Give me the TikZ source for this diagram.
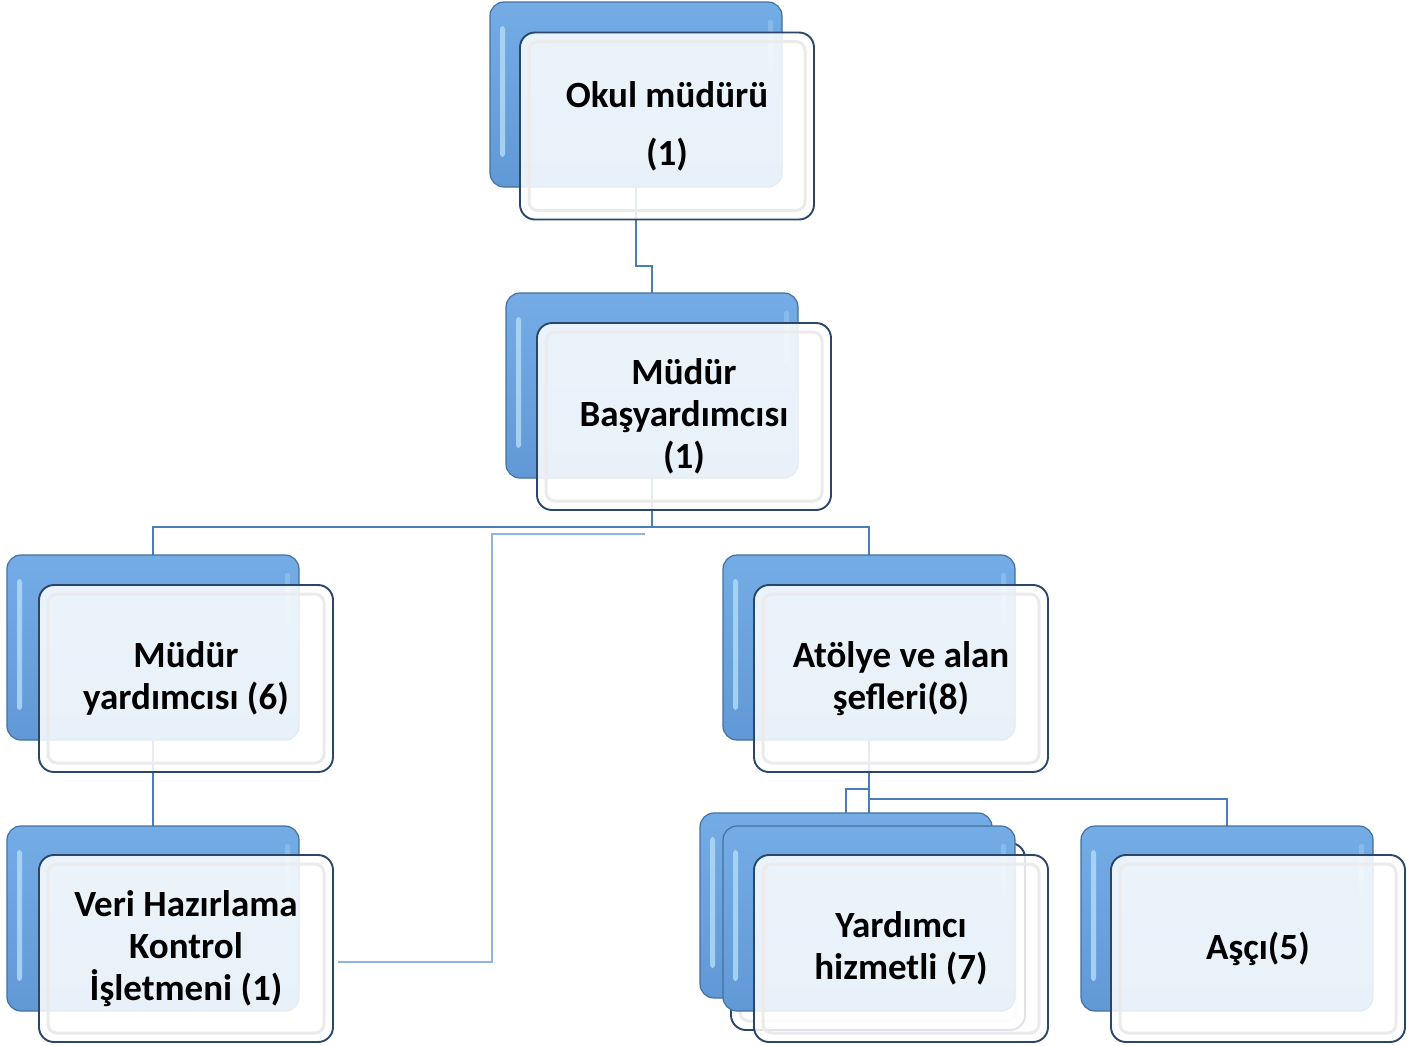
\documentclass[tikz,border=0pt]{standalone}
\usepackage{fontspec}
\setmainfont{Carlito}
\usetikzlibrary{calc}
\pgfdeclarelayer{background}
\pgfsetlayers{background,main}
\definecolor{bbtop}{HTML}{74ACE6}
\definecolor{bbbot}{HTML}{6199D6}
\definecolor{bbdraw}{HTML}{44719F}
\definecolor{hl}{HTML}{B5DDF7}
\definecolor{fdraw}{HTML}{2A466B}
\definecolor{conn}{HTML}{4A7EBB}
\definecolor{connl}{HTML}{8DB4E2}
\tikzset{
  backbox/.style={rounded corners=14pt, minimum width=292pt, minimum height=185pt,
    inner sep=0pt, outer sep=0pt, draw=bbdraw, line width=1.2pt,
    top color=bbtop, bottom color=bbbot,
    path picture={
      \fill[hl, opacity=0.8, rounded corners=3pt] ([shift={(10pt,-24pt)}]path picture bounding box.north west)
        rectangle ([shift={(15pt,30pt)}]path picture bounding box.south west);
      \fill[hl, opacity=0.35, rounded corners=2pt] ([shift={(-14pt,-18pt)}]path picture bounding box.north east)
        rectangle ([shift={(-9pt,-70pt)}]path picture bounding box.north east);
    }},
  frontbox/.style={rounded corners=15pt, minimum width=294pt, minimum height=187pt,
    inner sep=0pt, outer sep=0pt, draw=fdraw, line width=1.9pt,
    fill=white, fill opacity=0.86, text opacity=1, draw opacity=1,
    font=\fontsize{37}{42}\selectfont\bfseries, align=center,
    path picture={
      \draw[black!8, line width=3pt, rounded corners=9pt]
        ([shift={(9pt,-9pt)}]path picture bounding box.north west)
        rectangle ([shift={(-9pt,9pt)}]path picture bounding box.south east);
    }},
  conn/.style={draw=conn, line width=2.6pt},
  connl/.style={draw=connl, line width=2pt},
}
\begin{document}
\begin{tikzpicture}[x=1pt,y=-1pt]
\useasboundingbox (0,0) rectangle (1427,1045);
% Okul mudur
\node[backbox]  (okb) at (636,94.5) {};
\node[frontbox] (okf) at (667,126) {Okul müdürü\\[16pt](1)};
% Basyardimci
\node[backbox]  (bsb) at (652,385.5) {};
\node[frontbox] (bsf) at (684,416.5) {Müdür\\Başyardımcısı\\(1)};
% Mudur yardimcisi
\node[backbox]  (myb) at (153,647.5) {};
\node[frontbox] (myf) at (186,678.5) {Müdür\\yardımcısı (6)};
% Atolye
\node[backbox]  (atb) at (869,647.5) {};
\node[frontbox] (atf) at (901,678.5) {Atölye ve alan\\şefleri(8)};
% Veri
\node[backbox]  (vb) at (153,918.5) {};
\node[frontbox] (vf) at (186,948.5) {Veri Hazırlama\\Kontrol\\İşletmeni (1)};
% Yardimci hizmetli (stack)
\node[backbox]  (y1b) at (846,905.5) {};
\node[frontbox] (y1f) at (878,936.5) {};
\node[backbox]  (y2b) at (869,918.5) {};
\node[frontbox] (y2f) at (901,948.5) {Yardımcı\\hizmetli (7)};
% Asci
\node[backbox]  (ab) at (1227,918.5) {};
\node[frontbox] (af) at (1258,948.5) {Aşçı(5)};

\begin{pgfonlayer}{background}
  \fill[white] (0,0) rectangle (1427,1045);
  \draw[conn] (okb.south) -- ++(0,79) -| (bsb.north);
  \coordinate (j1) at (652,527);
  \draw[conn] (bsb.south) -- (j1);
  \draw[conn] (myb.north) |- (j1) -| (atb.north);
  \draw[conn] (myb.south) -- (vb.north);
  \coordinate (vA) at (645,534);
  \coordinate (vB) at ($(vf.east)+(5pt,-13.5pt)$);
  \draw[connl] (vA) -- ++(-153,0) |- (vB);
  \draw[conn] (atb.south) -- (y2b.north);
  \draw[conn] (atb.south) ++(0,49) -| (y1b.north);
  \draw[conn] (atb.south) ++(0,59) -| (ab.north);
\end{pgfonlayer}
\end{tikzpicture}
\end{document}
